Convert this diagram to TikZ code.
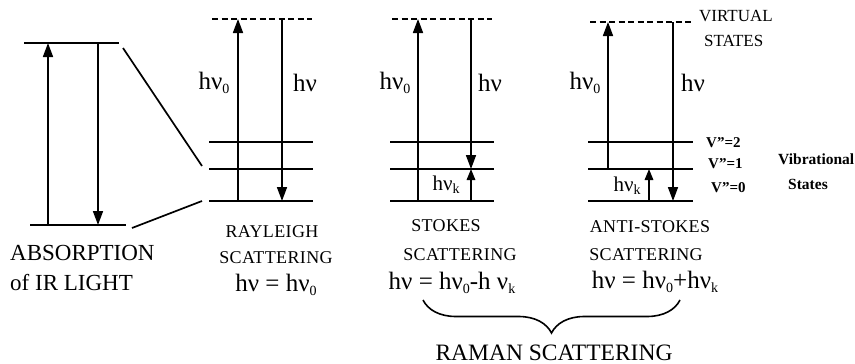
\documentclass[tikz,border=0pt]{standalone}
\usepackage{fontspec}
\setmainfont{Liberation Serif}
\usetikzlibrary{arrows.meta,decorations.pathreplacing}
\newcommand{\lowsub}[1]{\raisebox{-0.35ex}{\fontsize{14}{14}\selectfont #1}}
\tikzset{
  lev/.style={line width=1.7pt},
  virt/.style={line width=1.4pt, dash pattern=on 6pt off 3.5pt},
  arr/.style={line width=1.6pt, -{Triangle[length=14pt,width=10pt]}},
  sarr/.style={line width=1.6pt, -{Triangle[length=11pt,width=8.5pt]}},
  big/.style={font=\fontsize{25}{25}\selectfont, inner sep=0pt},
  mid/.style={font=\fontsize{21}{21}\selectfont, inner sep=0pt},
  capt/.style={font=\fontsize{18}{18}\selectfont\addfontfeature{LetterSpace=2}, inner sep=0pt, anchor=base},
  eqn/.style={font=\fontsize{25}{25}\selectfont, inner sep=0pt, anchor=base},
  large/.style={font=\fontsize{23}{23}\selectfont, inner sep=0pt, anchor=base west},
  small/.style={font=\fontsize{15}{15}\selectfont\bfseries, inner sep=0pt, anchor=base west},
  vib/.style={font=\fontsize{15.5}{15.5}\selectfont\bfseries, inner sep=0pt, anchor=base west},
  virtlab/.style={font=\fontsize{17}{17}\selectfont, inner sep=0pt, anchor=base west},
  raman/.style={font=\fontsize{23.5}{23.5}\selectfont, inner sep=0pt, anchor=base},
}
\begin{document}
\begin{tikzpicture}[x=1pt,y=-1pt]
\useasboundingbox (0,0) rectangle (855,364);
% ---------- Absorption ----------
\coordinate (a1) at (24,43);  \coordinate (a2) at (119,43);
\coordinate (a3) at (30,225); \coordinate (a4) at (126,225);
\draw[lev] (a1) -- (a2);
\draw[lev] (a3) -- (a4);
\coordinate (au0) at (48,225); \coordinate (au1) at (48,43);
\coordinate (ad0) at (98,43);  \coordinate (ad1) at (98,225);
\draw[arr] (au0) -- (au1);
\draw[arr] (ad0) -- (ad1);
\coordinate (d1) at (123,48);  \coordinate (d2) at (202,166);
\coordinate (d3) at (132,228); \coordinate (d4) at (202,201);
\draw[lev] (d1) -- (d2);
\draw[lev] (d3) -- (d4);
% ---------- Rayleigh ----------
\coordinate (rv1) at (212,19); \coordinate (rv2) at (312,19);
\draw[virt] (rv1) -- (rv2);
\foreach \y/\n in {142/2,169/1,201/0}{
  \coordinate (rl\n a) at (209,\y); \coordinate (rl\n b) at (313,\y);
  \draw[lev] (rl\n a) -- (rl\n b);
}
\coordinate (ru0) at (238,201); \coordinate (ru1) at (238,19);
\coordinate (rd0) at (282,19);  \coordinate (rd1) at (282,201);
\draw[arr] (ru0) -- (ru1);
\draw[arr] (rd0) -- (rd1);
\node[big] (rh0) at (214,83) {hν\lowsub{0}};
\node[big] (rh) at (305,83) {hν};
% ---------- Stokes ----------
\coordinate (sv1) at (392,19); \coordinate (sv2) at (492,19);
\draw[virt] (sv1) -- (sv2);
\foreach \y/\n in {142/2,169/1,201/0}{
  \coordinate (sl\n a) at (390,\y); \coordinate (sl\n b) at (494,\y);
  \draw[lev] (sl\n a) -- (sl\n b);
}
\coordinate (su0) at (418,201); \coordinate (su1) at (418,19);
\coordinate (sd0) at (471,19);  \coordinate (sd1) at (471,169);
\coordinate (sk0) at (471,201); \coordinate (sk1) at (471,169);
\draw[arr] (su0) -- (su1);
\draw[arr] (sd0) -- (sd1);
\draw[sarr] (sk0) -- (sk1);
\node[big] (sh0) at (395,83) {hν\lowsub{0}};
\node[big] (sh) at (490,83) {hν};
\node[mid] (shk) at (446,185) {hν\lowsub{k}};
% ---------- Anti-Stokes ----------
\coordinate (av1) at (590,22); \coordinate (av2) at (692,22);
\draw[virt] (av1) -- (av2);
\foreach \y/\n in {142/2,169/1,201/0}{
  \coordinate (al\n a) at (588,\y); \coordinate (al\n b) at (693,\y);
  \draw[lev] (al\n a) -- (al\n b);
}
\coordinate (au2) at (608,169); \coordinate (au3) at (608,22);
\coordinate (ad2) at (673,22);  \coordinate (ad3) at (673,201);
\coordinate (ak0) at (649,201); \coordinate (ak1) at (649,169);
\draw[arr] (au2) -- (au3);
\draw[arr] (ad2) -- (ad3);
\draw[sarr] (ak0) -- (ak1);
\node[big] (ah0) at (585,83) {hν\lowsub{0}};
\node[big] (ah) at (693,83) {hν};
\node[mid] (ahk) at (627,186) {hν\lowsub{k}};
% ---------- right labels ----------
\node[virtlab] (vt1) at (699,21) {VIRTUAL};
\node[virtlab] (vt2) at (704,46) {STATES};
\node[small] (v2) at (706,147) {V"=2};
\node[small] (v1) at (708,168) {V"=1};
\node[small] (v0) at (711,192) {V"=0};
\node[vib] (vb1) at (778,164) {Vibrational};
\node[vib] (vb2) at (788,189) {States};
% ---------- bottom labels ----------
\node[large] (ab1) at (10,260) {ABSORPTION};
\node[large] (ab2) at (10,290) {of IR LIGHT};
\node[capt] (ry1) at (272,237) {RAYLEIGH};
\node[capt] (ry2) at (276,263) {SCATTERING};
\node[eqn] (ry3) at (276,291) {hν = hν\lowsub{0}};
\node[capt] (st1) at (446,231) {STOKES};
\node[capt] (st2) at (460,260) {SCATTERING};
\node[eqn] (st3) at (452,289) {hν = hν\lowsub{0}-h ν\lowsub{k}};
\node[capt] (as1) at (650,232) {ANTI-STOKES};
\node[capt] (as2) at (646,260) {SCATTERING};
\node[eqn] (as3) at (655,288) {hν = hν\lowsub{0}+hν\lowsub{k}};
\coordinate (br1) at (680,300); \coordinate (br2) at (423,300);
\draw[line width=1.6pt, decorate, decoration={brace, amplitude=33pt}] (br1) -- (br2);
\node[raman] (rm) at (554,360) {RAMAN SCATTERING};
\end{tikzpicture}
\end{document}
